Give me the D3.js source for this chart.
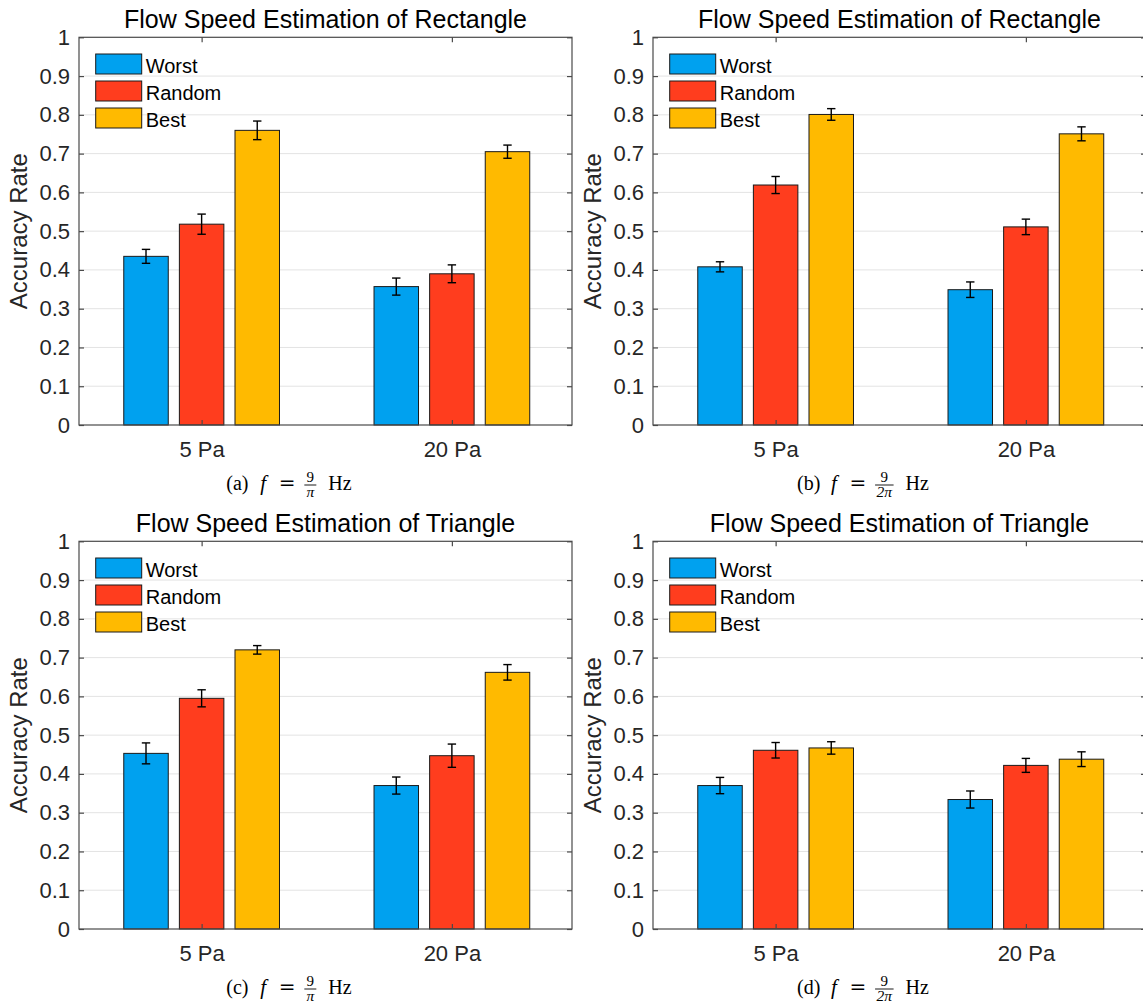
<!DOCTYPE html>
<html>
<head>
<meta charset="utf-8">
<script src="https://cdn.jsdelivr.net/npm/d3@7"></script>
<style>
  html, body { margin: 0; padding: 0; background: #fff; }
  svg { display: block; }
</style>
</head>
<body>
<svg id="chart" width="1143" height="1006"></svg>
<script>
// ---------------- DATA ----------------
const categories = ["5 Pa", "20 Pa"];
const seriesNames = ["Worst", "Random", "Best"];
const seriesColors = ["#00A1EF", "#FF3D1E", "#FFBA00"];
const yTicks = [0, 0.1, 0.2, 0.3, 0.4, 0.5, 0.6, 0.7, 0.8, 0.9, 1];
const yTickLabels = ["0", "0.1", "0.2", "0.3", "0.4", "0.5", "0.6", "0.7", "0.8", "0.9", "1"];

const panelTitles = [
  "Flow Speed Estimation of Rectangle",
  "Flow Speed Estimation of Rectangle",
  "Flow Speed Estimation of Triangle",
  "Flow Speed Estimation of Triangle"
];
const panelLetters = ["(a)", "(b)", "(c)", "(d)"];
const panelFracDen = ["π", "2π", "π", "2π"];

// values[category][series]
const valuesA = [[0.435, 0.518, 0.760], [0.357, 0.390, 0.705]];
const errorsA = [[0.018, 0.026, 0.024], [0.022, 0.023, 0.017]];
const valuesB = [[0.408, 0.619, 0.801], [0.349, 0.511, 0.751]];
const errorsB = [[0.013, 0.022, 0.015], [0.020, 0.020, 0.018]];
const valuesC = [[0.453, 0.595, 0.720], [0.370, 0.447, 0.662]];
const errorsC = [[0.027, 0.022, 0.011], [0.022, 0.030, 0.020]];
const valuesD = [[0.370, 0.461, 0.467], [0.334, 0.422, 0.438]];
const errorsD = [[0.021, 0.020, 0.016], [0.022, 0.018, 0.019]];

const panelValues = [valuesA, valuesB, valuesC, valuesD];
const panelErrors = [errorsA, errorsB, errorsC, errorsD];

// ---------------- LAYOUT ----------------
const panelOffsets = [[0, 0], [574, 0], [0, 504], [574, 504]];
const plot = { x0: 79, x1: 572, y0: 37.3, y1: 425 };
const sansFont = "'Liberation Sans', Arial, Helvetica, sans-serif";
const serifFont = "'Liberation Serif', 'Times New Roman', Times, serif";
const axisColor = "#4a4a4a";
const textColor = "#262626";

const svg = d3.select("#chart");

function drawPanel(idx) {
  const [ox, oy] = panelOffsets[idx];
  const g = svg.append("g").attr("transform", `translate(${ox},${oy})`);
  const vals = panelValues[idx];
  const errs = panelErrors[idx];

  const x = d3.scaleLinear().domain([0.51, 2.48]).range([plot.x0, plot.x1]);
  const y = d3.scaleLinear().domain([0, 1]).range([plot.y1, plot.y0]);

  const groupStep = 0.6667 / 3;
  const barW = groupStep * 0.8;

  // grid
  g.append("g").selectAll("line")
    .data(yTicks.filter(t => t > 0 && t < 1))
    .join("line")
    .attr("x1", plot.x0).attr("x2", plot.x1)
    .attr("y1", d => y(d)).attr("y2", d => y(d))
    .attr("stroke", "#e3e3e3").attr("stroke-width", 1);

  // bars
  const barData = [];
  vals.forEach((row, ci) => {
    row.forEach((v, si) => {
      barData.push({ ci, si, v, e: errs[ci][si] });
    });
  });
  const cx = d => x(d.ci + 1 + (d.si - 1) * groupStep);

  g.append("g").selectAll("rect")
    .data(barData)
    .join("rect")
    .attr("x", d => cx(d) - (x(barW) - x(0)) / 2)
    .attr("width", x(barW) - x(0))
    .attr("y", d => y(d.v))
    .attr("height", d => y(0) - y(d.v))
    .attr("fill", d => seriesColors[d.si])
    .attr("stroke", "#1a1a1a")
    .attr("stroke-width", 1);

  // error bars
  const eg = g.append("g").attr("stroke", "#000").attr("stroke-width", 1.4);
  barData.forEach(d => {
    const xc = cx(d);
    eg.append("line").attr("x1", xc).attr("x2", xc)
      .attr("y1", y(d.v + d.e)).attr("y2", y(d.v - d.e));
    eg.append("line").attr("x1", xc - 4.2).attr("x2", xc + 4.2)
      .attr("y1", y(d.v + d.e)).attr("y2", y(d.v + d.e));
    eg.append("line").attr("x1", xc - 4.2).attr("x2", xc + 4.2)
      .attr("y1", y(d.v - d.e)).attr("y2", y(d.v - d.e));
  });

  // axes box
  g.append("rect")
    .attr("x", plot.x0).attr("y", plot.y0)
    .attr("width", plot.x1 - plot.x0).attr("height", plot.y1 - plot.y0)
    .attr("fill", "none").attr("stroke", axisColor).attr("stroke-width", 1.2);

  // y axis (left, inward ticks) via d3 axis
  const tickLen = 5;
  const yAxisL = d3.axisLeft(y).tickValues(yTicks)
    .tickFormat((d, i) => yTickLabels[i]).tickSize(-tickLen).tickPadding(9);
  const gyl = g.append("g").attr("transform", `translate(${plot.x0},0)`).call(yAxisL);
  gyl.select(".domain").remove();
  gyl.selectAll(".tick line").attr("stroke", axisColor).attr("stroke-width", 1.2);
  gyl.selectAll(".tick text").attr("fill", textColor)
    .style("font-family", sansFont).style("font-size", "22px");

  const yAxisR = d3.axisRight(y).tickValues(yTicks).tickFormat("").tickSize(-tickLen);
  const gyr = g.append("g").attr("transform", `translate(${plot.x1},0)`).call(yAxisR);
  gyr.select(".domain").remove();
  gyr.selectAll(".tick line").attr("stroke", axisColor).attr("stroke-width", 1.2);

  // x axis
  const xAxisB = d3.axisBottom(x).tickValues([1, 2])
    .tickFormat((d, i) => categories[i]).tickSize(-tickLen).tickPadding(16);
  const gxb = g.append("g").attr("transform", `translate(0,${plot.y1})`).call(xAxisB);
  gxb.select(".domain").remove();
  gxb.selectAll(".tick line").attr("stroke", axisColor).attr("stroke-width", 1.2);
  gxb.selectAll(".tick text").attr("fill", textColor)
    .style("font-family", sansFont).style("font-size", "22px");

  const xAxisT = d3.axisTop(x).tickValues([1, 2]).tickFormat("").tickSize(-tickLen);
  const gxt = g.append("g").attr("transform", `translate(0,${plot.y0})`).call(xAxisT);
  gxt.select(".domain").remove();
  gxt.selectAll(".tick line").attr("stroke", axisColor).attr("stroke-width", 1.2);

  // title
  g.append("text")
    .attr("x", (plot.x0 + plot.x1) / 2).attr("y", 27.5)
    .attr("text-anchor", "middle")
    .style("font-family", sansFont).style("font-size", "25px")
    .attr("fill", "#000")
    .text(panelTitles[idx]);

  // y label
  g.append("text")
    .attr("transform", `translate(27,${(plot.y0 + plot.y1) / 2}) rotate(-90)`)
    .attr("text-anchor", "middle")
    .style("font-family", sansFont).style("font-size", "24px")
    .attr("fill", textColor)
    .text("Accuracy Rate");

  // legend
  const lg = g.append("g");
  seriesNames.forEach((name, i) => {
    const top = 54 + i * 27;
    lg.append("rect")
      .attr("x", plot.x0 + 16.7).attr("y", top)
      .attr("width", 46).attr("height", 20)
      .attr("fill", seriesColors[i]).attr("stroke", "#1a1a1a").attr("stroke-width", 1);
    lg.append("text")
      .attr("x", plot.x0 + 66.7).attr("y", top + 18.5)
      .style("font-family", sansFont).style("font-size", "20px")
      .attr("fill", "#000")
      .text(name);
  });

  // caption
  const cap = g.append("g");
  const base = 490;
  cap.append("text").attr("x", 0).attr("y", base)
    .style("font-family", serifFont).style("font-size", "20px").attr("fill", "#000")
    .text(panelLetters[idx]);
  cap.append("text").attr("x", 34).attr("y", base)
    .style("font-family", serifFont).style("font-size", "21px").style("font-style", "italic")
    .attr("fill", "#000").text("f");
  cap.append("text").attr("x", 52.5).attr("y", base)
    .style("font-family", "'DejaVu Serif', serif").style("font-size", "20px").attr("fill", "#000").text("=");
  const fracX = 78;
  const den = cap.append("text").attr("y", base + 7)
    .style("font-family", serifFont).style("font-size", "15.5px")
    .style("font-style", "italic").attr("fill", "#000").text(panelFracDen[idx]);
  const denW = den.node().getComputedTextLength();
  const fracW = Math.max(denW + 3, 12);
  den.attr("x", fracX + fracW / 2).attr("text-anchor", "middle");
  cap.append("text").attr("x", fracX + fracW / 2).attr("y", base - 8.3)
    .attr("text-anchor", "middle")
    .style("font-family", serifFont).style("font-size", "15px").attr("fill", "#000").text("9");
  cap.append("line").attr("x1", fracX).attr("x2", fracX + fracW)
    .attr("y1", base - 5).attr("y2", base - 5)
    .attr("stroke", "#000").attr("stroke-width", 0.9);
  const hz = cap.append("text").attr("x", fracX + fracW + 12).attr("y", base)
    .style("font-family", serifFont).style("font-size", "20px").attr("fill", "#000").text("Hz");
  const total = fracX + fracW + 12 + hz.node().getComputedTextLength();
  cap.attr("transform", `translate(${289 - total / 2},0)`);
}

[0, 1, 2, 3].forEach(drawPanel);
</script>
</body>
</html>
